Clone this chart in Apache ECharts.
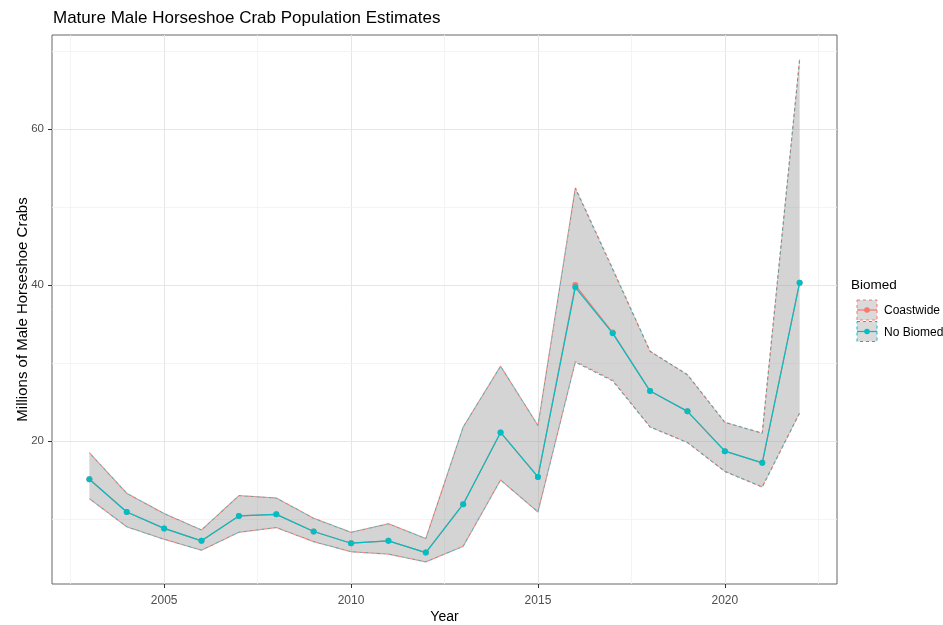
<!DOCTYPE html>
<html>
<head>
<meta charset="utf-8">
<script src="https://cdn.jsdelivr.net/npm/echarts@6/dist/echarts.min.js"></script>
<style>
html,body{margin:0;padding:0;background:#fff;}
#chart{width:943px;height:625px;}
</style>
</head>
<body>
<div id="chart"></div>
<script>
// ---- data ----
const years = [2003,2004,2005,2006,2007,2008,2009,2010,2011,2012,2013,2014,2015,2016,2017,2018,2019,2020,2021,2022];
const noBiomedEst   = [15.1,10.9,8.8,7.2,10.4,10.6,8.4,6.9,7.2,5.7,11.9,21.1,15.4,39.7,33.8,26.4,23.8,18.7,17.2,40.3];
const noBiomedUpper = [18.5,13.3,10.7,8.6,13.0,12.7,10.1,8.3,9.4,7.5,21.8,29.6,22.0,52.4,42.0,31.5,28.5,22.4,21.0,68.9];
const noBiomedLower = [12.6,9.0,7.4,6.0,8.3,8.9,7.1,5.8,5.5,4.5,6.5,15.0,10.9,30.1,27.7,21.8,19.8,16.1,14.1,23.6];
const coastwideEst   = [15.1,10.9,8.8,7.2,10.4,10.6,8.4,6.9,7.2,5.7,11.9,21.1,15.4,40.0,33.9,26.4,23.8,18.7,17.2,40.3];
const coastwideUpper = [18.5,13.3,10.7,8.6,13.0,12.7,10.1,8.3,9.4,7.5,21.8,29.6,22.0,52.5,42.1,31.5,28.5,22.4,21.0,68.9];
const coastwideLower = [12.6,9.0,7.4,6.0,8.3,8.9,7.1,5.8,5.5,4.5,6.5,15.0,10.9,30.2,27.8,21.8,19.8,16.1,14.1,23.6];
const xTicks = [2005,2010,2015,2020];
const xMinorGrid = [2002.5,2007.5,2012.5,2017.5,2022.5];
const yTicks = [20,40,60];
const yMinorGrid = [10,30,50,70];
const groups = ['Coastwide','No Biomed'];
const groupColors = ['#F8766D','#00BFC4'];

const FONT = "'Liberation Sans', Arial, sans-serif";
const chart = echarts.init(document.getElementById('chart'), null, {renderer:'canvas'});

function pairs(xs, ys){ return xs.map((x,i)=>[x, ys[i]]); }

function ribbonSeries(name, lower, upper, z){
  const data = years.map((y,i)=>[y, lower[i], upper[i]]);
  return {
    type:'custom', name:name, z:z, silent:true,
    data:data,
    encode:{x:0, y:[1,2]},
    renderItem:function(params, api){
      if (params.dataIndex !== 0) return null;
      const pts = [];
      for (let i=0;i<data.length;i++) pts.push(api.coord([data[i][0], data[i][2]]));
      for (let i=data.length-1;i>=0;i--) pts.push(api.coord([data[i][0], data[i][1]]));
      return {type:'polygon', shape:{points:pts}, style:{fill:'rgba(150,150,150,0.23)', stroke:null}};
    }
  };
}
function boundSeries(name, vals, color, z, offset){
  return {
    type:'line', name:name, z:z, silent:true, symbol:'none',
    data:pairs(years, vals),
    lineStyle:{color:color, width:1.1, type:[3,3], dashOffset:offset, opacity:0.85}
  };
}
function estSeries(name, vals, color, z){
  return {
    type:'line', name:name, z:z, silent:true, symbol:'circle', symbolSize:6,
    data:pairs(years, vals),
    lineStyle:{color:color, width:1.2},
    itemStyle:{color:color}
  };
}

const gridLineSeries = {
  type:'line', name:'gridlines', z:0, silent:true, data:[],
  markLine:{
    silent:true, z:0, symbol:['none','none'], label:{show:false},
    animation:false,
    data:[
      ...xTicks.map(v=>({xAxis:v, lineStyle:{color:'#e6e6e6', width:1, type:'solid'}})),
      ...xMinorGrid.map(v=>({xAxis:v, lineStyle:{color:'#f1f1f1', width:0.8, type:'solid'}})),
      ...yTicks.map(v=>({yAxis:v, lineStyle:{color:'#e6e6e6', width:1, type:'solid'}})),
      ...yMinorGrid.map(v=>({yAxis:v, lineStyle:{color:'#f1f1f1', width:0.8, type:'solid'}}))
    ]
  }
};

// legend (drawn as graphic elements)
const legX = 857, legKeyW = 20, legKeyH = 20, legTop = 300;
const legendGraphics = [
  {type:'text', left:851, top:278, style:{text:'Biomed', font:"13.5px "+FONT, fill:'#000'}}
];
groups.forEach((g,i)=>{
  const top = legTop + i*(legKeyH+1.5);
  const cy = top + legKeyH/2;
  legendGraphics.push(
    {type:'rect', shape:{x:legX, y:top, width:legKeyW, height:legKeyH},
     style:{fill:'#dadada', stroke:groupColors[i], lineWidth:1, lineDash:[3,3]}},
    {type:'line', shape:{x1:legX, y1:cy, x2:legX+legKeyW, y2:cy},
     style:{stroke:groupColors[i], lineWidth:1.2}},
    {type:'circle', shape:{cx:legX+legKeyW/2, cy:cy, r:2.8}, style:{fill:groupColors[i]}},
    {type:'text', x:legX+legKeyW+7, y:cy+1, style:{text:g, font:"12px "+FONT, fill:'#000', verticalAlign:'middle'}}
  );
});

chart.setOption({
  animation:false,
  backgroundColor:'#fff',
  title:{
    text:'Mature Male Horseshoe Crab Population Estimates',
    left:53, top:10, padding:0,
    textStyle:{fontFamily:FONT, fontSize:17, fontWeight:'normal', color:'#000'}
  },
  grid:{left:52, right:106, top:35, bottom:41, show:true, borderColor:'#666', borderWidth:1,
        backgroundColor:'#fff', containLabel:false, outerBoundsMode:'none'},
  xAxis:{
    type:'value', min:2002.0, max:2023.0,
    name:'Year', nameLocation:'middle', nameGap:26, nameMoveOverlap:false,
    nameTextStyle:{fontFamily:FONT, fontSize:14, color:'#000'},
    axisLine:{show:false},
    axisTick:{show:true, length:4, customValues:xTicks, lineStyle:{color:'#333'}},
    axisLabel:{show:true, customValues:xTicks, margin:11, fontFamily:FONT, fontSize:12, color:'#4d4d4d',
               formatter:function(v){ return String(v); }},
    splitLine:{show:false}
  },
  yAxis:{
    type:'value', min:1.67, max:72.05,
    name:'Millions of Male Horseshoe Crabs', nameLocation:'middle', nameRotate:90, nameGap:22, nameMoveOverlap:false,
    nameTextStyle:{fontFamily:FONT, fontSize:15, color:'#000'},
    axisLine:{show:false},
    axisTick:{show:true, length:4, customValues:yTicks, lineStyle:{color:'#333'}},
    axisLabel:{show:true, customValues:yTicks, margin:8, fontFamily:FONT, fontSize:11.5, color:'#4d4d4d',
               formatter:function(v){ return String(v); }},
    splitLine:{show:false}
  },
  graphic:legendGraphics,
  series:[
    gridLineSeries,
    ribbonSeries('Coastwide band', coastwideLower, coastwideUpper, 2),
    ribbonSeries('No Biomed band', noBiomedLower, noBiomedUpper, 3),
    boundSeries('Coastwide upper', coastwideUpper, groupColors[0], 4, 0),
    boundSeries('Coastwide lower', coastwideLower, groupColors[0], 4, 0),
    boundSeries('No Biomed upper', noBiomedUpper, '#4a9a9c', 5, 3),
    boundSeries('No Biomed lower', noBiomedLower, '#4a9a9c', 5, 3),
    estSeries('Coastwide', coastwideEst, groupColors[0], 6),
    estSeries('No Biomed', noBiomedEst, groupColors[1], 7)
  ]
});
</script>
</body>
</html>
